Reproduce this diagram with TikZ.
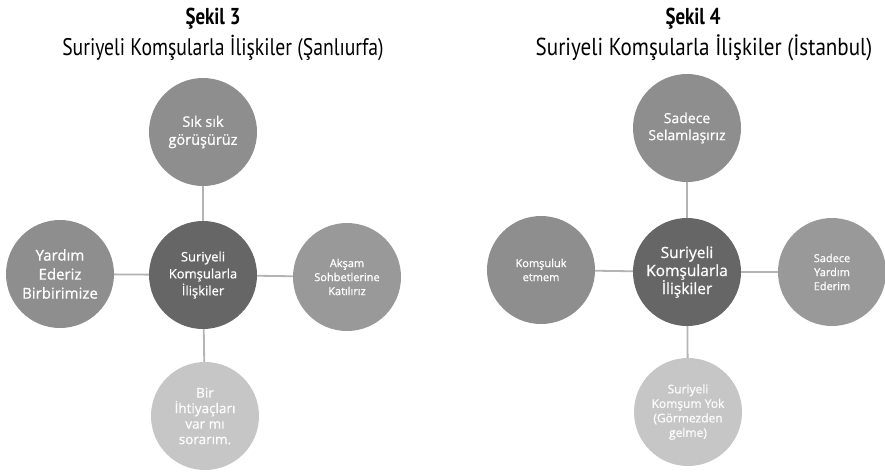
\documentclass[tikz,border=0pt]{standalone}
\usepackage{fontspec}
\setmainfont{Open Sans}
\newfontfamily\semi[FakeBold=0.8]{Open Sans}
\newfontfamily\titlefont[FakeStretch=0.82]{PT Sans}
\newfontfamily\titlefontw[FakeStretch=0.86]{PT Sans}
\definecolor{cdark}{HTML}{666666}
\definecolor{cmid}{HTML}{8E8E8E}
\definecolor{cmidr}{HTML}{999999}
\definecolor{clight}{HTML}{C6C6C6}
\definecolor{cline}{HTML}{B4B4B4}
\tikzset{
  bub/.style={circle, minimum size=108pt, inner sep=0pt, text=white, align=center},
  hub/.style={bub, fill=cdark},
  midbub/.style={bub, fill=cmid},
  midbubr/.style={bub, fill=cmidr},
  lowbub/.style={bub, fill=clight, text=white!96!clight},
  link/.style={draw=cline, line width=1.8pt},
  ttl/.style={anchor=base, text=black},
}
\newcommand{\fs}[2]{\fontsize{#1}{#2}\selectfont}
\begin{document}
\begin{tikzpicture}[x=1pt,y=-1pt]
\useasboundingbox[fill=white] (0,0) rectangle (885,472);
% titles
\node[ttl, font=\titlefont\bfseries\fs{23}{24}] (t3) at (213,24) {Şekil 3};
\node[ttl, font=\titlefont\fs{24}{26}] (s3) at (223,55) {Suriyeli Komşularla İlişkiler (Şanlıurfa)};
\node[ttl, font=\titlefont\bfseries\fs{23}{24}] (t4) at (693,24) {Şekil 4};
\node[ttl, font=\titlefontw\fs{24.5}{26}] (s4) at (704,55) {Suriyeli Komşularla İlişkiler (İstanbul)};
% left diagram
\node[hub, font=\semi\fs{13}{17}] (c3) at (203,275) {Suriyeli\\Komşularla\\İlişkiler};
\node[midbub, font=\semi\fs{14.5}{18}] (n3) at (203,132) {Sık sık\\görüşürüz};
\node[midbub, font=\semi\fs{15}{19}] (w3) at (60,274) {Yardım\\Ederiz\\Birbirimize};
\node[midbubr, font=\semi\fs{11}{14}] (e3) at (347,277) {Akşam\\Sohbetlerine\\Katılırız};
\node[lowbub, font=\semi\fs{13.5}{15.5}] (s3b) at (205,416) {Bir\\İhtiyaçları\\var mı\\sorarım.};
\draw[link] (c3) -- (n3);
\draw[link] (c3) -- (w3);
\draw[link] (c3) -- (e3);
\draw[link] (c3) -- (s3b);
% right diagram
\node[hub, font=\semi\fs{15.5}{18}] (c4) at (687,272) {Suriyeli\\Komşularla\\İlişkiler};
\node[midbub, font=\semi\fs{14}{17}] (n4) at (687,128) {Sadece\\Selamlaşırız};
\node[midbub, font=\semi\fs{11}{14}] (w4) at (541,270) {Komşuluk\\etmem};
\node[midbubr, font=\semi\fs{11}{14}] (e4) at (832,272) {Sadece\\Yardım\\Ederim};
\node[lowbub, font=\semi\fs{12}{14.5}] (s4b) at (688,412) {Suriyeli\\Komşum Yok\\(Görmezden\\gelme)};
\draw[link] (c4) -- (n4);
\draw[link] (c4) -- (w4);
\draw[link] (c4) -- (e4);
\draw[link] (c4) -- (s4b);
\end{tikzpicture}
\end{document}
